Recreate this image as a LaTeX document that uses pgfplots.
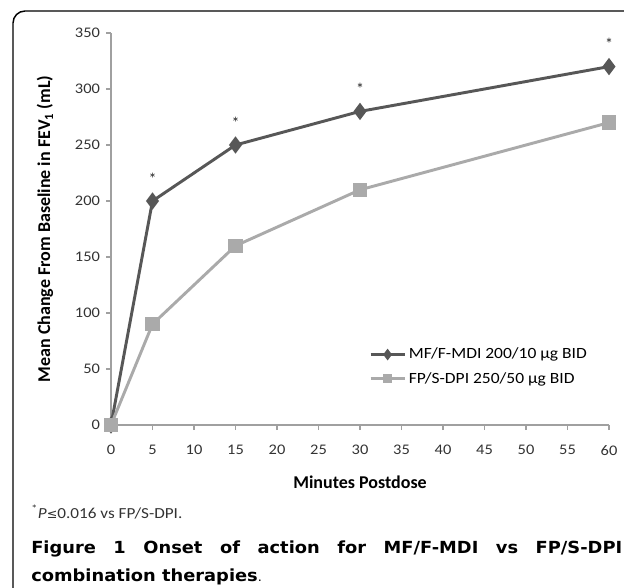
\documentclass[border=0pt]{standalone}
\usepackage{fontspec}
\setmainfont{Carlito}
\newfontfamily\wide[FakeStretch=1.12]{Carlito}
\newfontfamily\capfont{DejaVu Sans}
\newfontfamily\capwide[FakeStretch=1.07]{DejaVu Sans}
\usepackage{pgfplots}
\pgfplotsset{compat=1.18}
\definecolor{darkser}{RGB}{87,87,87}
\definecolor{lightser}{RGB}{170,170,170}
\definecolor{axgray}{RGB}{160,160,160}
\begin{document}
\begin{tikzpicture}
\begin{scope}[x=0.75pt,y=-0.75pt]
\useasboundingbox (0,0) rectangle (624,588);
\clip (0,0) rectangle (624,588);
\draw[line width=1.1pt, rounded corners=9pt] (13,660) -- (13,11) -- (700,11);
\node[anchor=west, inner sep=0pt, font=\wide\fontsize{11.5}{14}\selectfont, text=black!80] at (31,512) {\textsuperscript{*}\textit{P}{\capfont\fontsize{9.5}{12}\selectfont ≤}0.016 vs FP/S-DPI.};
\node[anchor=base west, inner sep=0pt] at (31,553) {\parbox[t]{443.25pt}{\capwide\fontsize{12.5}{21}\selectfont\bfseries\hyphenpenalty=10000 \exhyphenpenalty=10000 Figure 1 Onset of action for MF/F-MDI vs FP/S-DPI\linebreak combination therapies{\mdseries\fontsize{9}{21}\selectfont .}}};
\end{scope}
\begin{axis}[at={(83.25pt,-318.75pt)}, anchor=south west, scale only axis,
  width=373.5pt, height=294pt,
  xmin=0, xmax=60, ymin=0, ymax=350,
  xtick={0,5,...,60}, ytick={0,50,...,350},
  axis x line*=bottom, axis y line*=left,
  axis line style={axgray, line width=0.9pt},
  tick style={axgray, line width=0.9pt},
  tick align=outside, major tick length=3.75pt,
  tick label style={font=\wide\fontsize{11}{13}\selectfont, text=black!80},
  xticklabel shift=8pt,
  yticklabel shift=1pt,
  /pgf/number format/assume math mode=true,
  xlabel={Minutes Postdose},
  ylabel={Mean Change From Baseline in FEV\textsubscript{1} (mL)},
  label style={font=\fontsize{13.5}{16}\selectfont\bfseries},
  xlabel style={at={(axis description cs:0.5,-0.1454)}, anchor=center},
  ylabel style={at={(axis description cs:-0.1325,0.5)}, anchor=center},
  clip=false,
  legend style={draw=none, fill=none, at={(axis description cs:0.515,0.207)}, anchor=north west, font=\wide\fontsize{11.7}{14}\selectfont, row sep=4.5pt, inner sep=1pt},
  legend cell align=left,
  legend image code/.code={\draw[#1, mark repeat=2, mark phase=2, mark options={scale=0.55}] plot coordinates {(0cm,0cm) (0.45cm,0cm) (0.9cm,0cm)};},
]
\addplot[darkser, line width=2.2pt, mark=diamond*, mark size=4.7pt, mark options={solid, fill=darkser}] coordinates {(0,0) (5,200) (15,250) (30,280) (60,320)};
\addlegendentry{MF/F-MDI 200/10 μg BID}
\addplot[lightser, line width=2.2pt, mark=square*, mark size=4.3pt, mark options={solid, fill=lightser}] coordinates {(0,0) (5,90) (15,160) (30,210) (60,270)};
\addlegendentry{FP/S-DPI 250/50 μg BID}
\addplot[draw=none, mark=none, forget plot, nodes near coords={*}, every node near coord/.append style={anchor=center, yshift=17pt, font=\fontsize{12}{14}\selectfont, text=black!85}] coordinates {(5,200) (15,250) (30,280) (60,320)};
\end{axis}
\end{tikzpicture}
\end{document}
